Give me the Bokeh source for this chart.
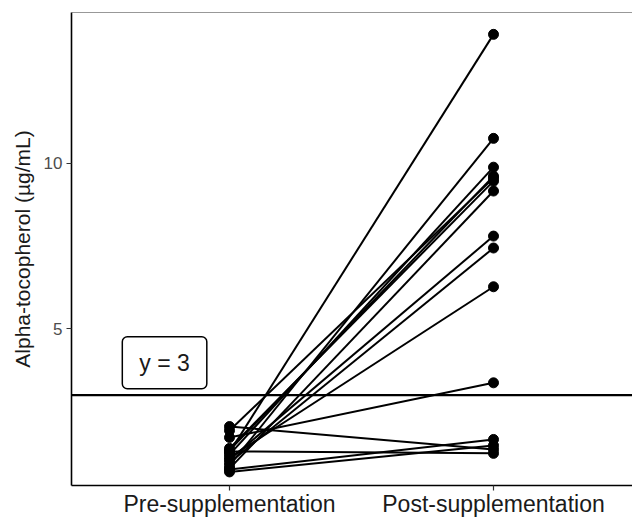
from bokeh.plotting import figure
from bokeh.models import Range1d, FixedTicker, Span, Label
from bokeh.embed import file_html
from bokeh.resources import INLINE

categories = ["Pre-supplementation", "Post-supplementation"]
pre = [1.27, 0.87, 1.20, 1.33, 1.39, 0.78, 1.05, 0.96, 1.11, 1.72, 2.05, 1.30, 0.75, 0.68, 1.93]
post = [13.89, 10.75, 9.88, 9.61, 9.46, 9.16, 7.80, 7.44, 6.27, 3.37, 1.36, 1.24, 1.66, 1.48, 9.55]
threshold = 3
y_ticks = [5, 10]

xpos = [1, 2]
y_lo, y_hi = 0.27, 14.55

p = figure(width=632, height=519, output_backend="svg", toolbar_location=None,
           x_range=Range1d(0.4015, 2.5265), y_range=Range1d(y_lo, y_hi),
           min_border_left=71, min_border_right=0, min_border_top=12, min_border_bottom=30)
p.outline_line_color = None
p.xgrid.visible = False
p.ygrid.visible = False
p.background_fill_color = "white"

xs = [xpos[:] for _ in pre]
ys = [[a, b] for a, b in zip(pre, post)]
p.multi_line(xs, ys, line_color="black", line_width=2)
p.scatter([xpos[0]] * len(pre), pre, size=10, color="black")
p.scatter([xpos[1]] * len(post), post, size=10, color="black")

p.add_layout(Span(location=threshold, dimension="width", line_color="black", line_width=2.2))
p.add_layout(Span(location=y_hi, dimension="width", line_color="#333333", line_width=1.2))

p.add_layout(Label(x=0.754, y=3.976, text="y = " + str(threshold), text_align="center",
                   text_baseline="middle", text_font="Liberation Sans", text_font_size="23px",
                   text_color="#1a1a1a",
                   background_fill_color="white", border_line_color="black",
                   border_line_width=1.5, padding=(17, 13), border_radius=5))

p.xaxis.ticker = FixedTicker(ticks=xpos)
p.xaxis.major_label_overrides = {xpos[i]: categories[i] for i in range(2)}
p.yaxis.ticker = FixedTicker(ticks=y_ticks)

for ax in (p.xaxis, p.yaxis):
    ax.axis_line_color = "black"
    ax.axis_line_width = 1.6
    ax.major_tick_line_color = "#333333"
    ax.major_tick_line_width = 1.2
    ax.major_tick_in = 0
    ax.major_tick_out = 5
    ax.minor_tick_line_color = None
    ax.major_label_text_font = "Liberation Sans"
    ax.axis_label_text_font = "Liberation Sans"
    ax.axis_label_text_font_style = "normal"

p.xaxis.major_label_text_font_size = "23px"
p.xaxis.major_label_text_color = "#1a1a1a"
p.xaxis.major_label_standoff = 0
p.yaxis.major_label_text_font_size = "17px"
p.yaxis.major_label_text_color = "#4d4d4d"
p.yaxis.major_label_standoff = 4
p.yaxis.axis_label = "Alpha-tocopherol (µg/mL)"
p.yaxis.axis_label_text_font_size = "21px"
p.yaxis.axis_label_text_color = "#1a1a1a"
p.yaxis.axis_label_standoff = 7

open("out.html", "w").write(file_html(p, INLINE))
